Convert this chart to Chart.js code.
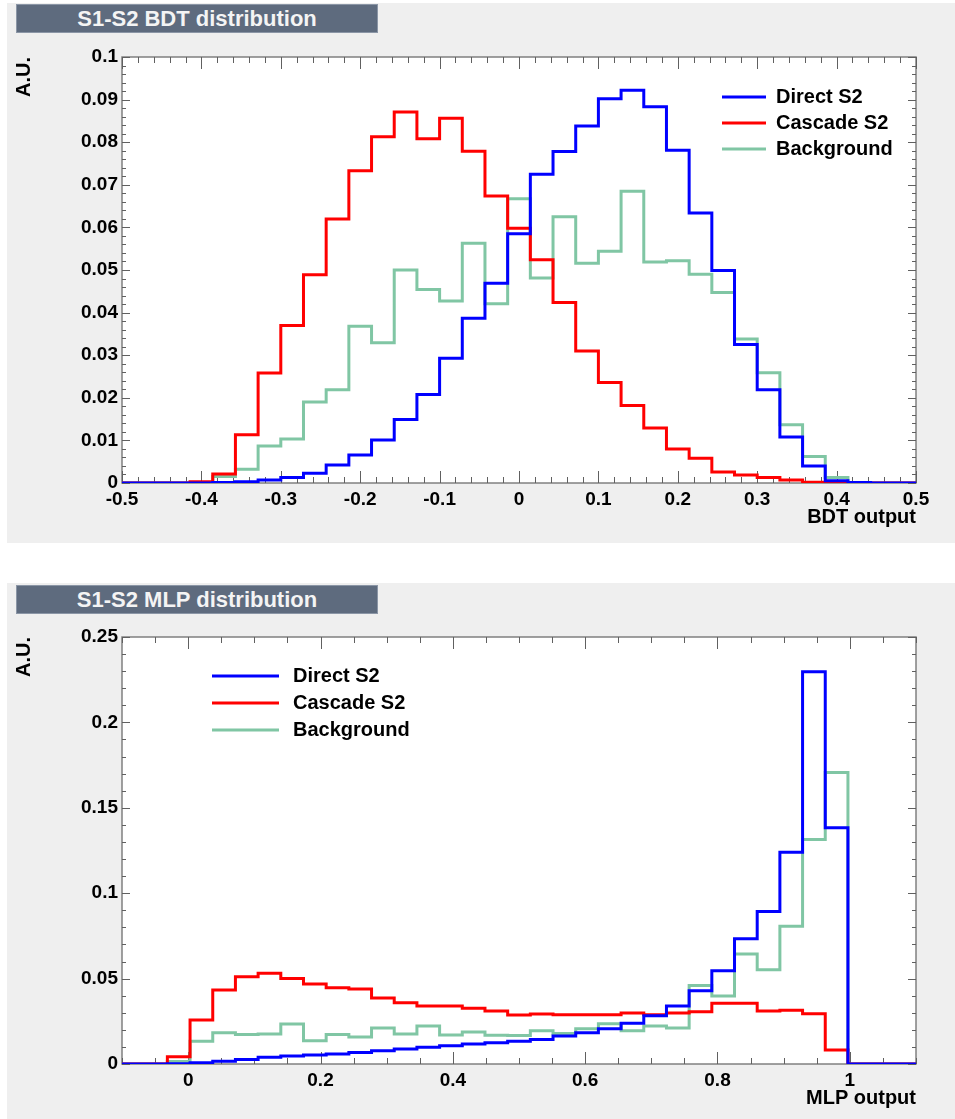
<!DOCTYPE html>
<html>
<head>
<meta charset="utf-8">
<title>S1-S2 BDT / MLP distributions</title>
<script src="https://cdn.jsdelivr.net/npm/chart.js@4"></script>
<style>
    body { margin: 0; background: #fff; font-family: "Liberation Sans", Arial, sans-serif; }
    .pad { position: absolute; left: 7px; right: 0; background: #efefef; }
    #pad1 { top: 3px; height: 540px; }
    #pad2 { top: 583px; height: 536px; }
    .banner {
        position: absolute; left: 16px; width: 362px; height: 29px; box-sizing: border-box;
        background: #5e6b7e; border: 1px solid #8b96a6; color: #f4f4f4;
        font-weight: bold; font-size: 22px; line-height: 27px; text-align: center;
    }
    canvas { position: absolute; left: 0; }
    #bdtChart { top: 0; }
    #mlpChart { top: 583px; }
</style>
</head>
<body>
<div class="pad" id="pad1"></div>
<div class="pad" id="pad2"></div>
<canvas id="bdtChart" width="955" height="543"></canvas>
<canvas id="mlpChart" width="955" height="536"></canvas>
<div class="banner" style="top:4px">S1-S2 BDT distribution</div>
<div class="banner" style="top:585px">S1-S2 MLP distribution</div>
<script>
// series names and colours
const seriesNames = ['Direct S2', 'Cascade S2', 'Background'];
const seriesColors = ['#0000ff', '#ff0000', '#80c6a4'];

// BDT output: 35 bins from -0.5 to 0.5
const bdtRange = [-0.5, 0.5];
const bdtDirect = [0, 0, 0, 0, 0.0001, 0.0003, 0.0007, 0.0013, 0.0023, 0.0042, 0.0066, 0.0101, 0.0149, 0.0208, 0.0293, 0.0387, 0.0469,
    0.0585, 0.0725, 0.0778, 0.0838, 0.0902, 0.0922, 0.0883, 0.0781, 0.0634, 0.0499, 0.0325, 0.0219, 0.0108, 0.0040, 0.0005, 0.0001, 0, 0];
const bdtCascade = [0, 0, 0, 0.0003, 0.0021, 0.0113, 0.0258, 0.0370, 0.0489, 0.0620, 0.0733, 0.0813, 0.0871, 0.0808, 0.0856, 0.0779, 0.0674,
    0.0598, 0.0524, 0.0424, 0.0310, 0.0236, 0.0182, 0.0129, 0.0080, 0.0058, 0.0026, 0.0019, 0.0013, 0.0007, 0.0002, 0.0001, 0, 0, 0];
const bdtBackground = [0, 0, 0, 0, 0.0015, 0.0032, 0.0087, 0.0103, 0.0190, 0.0219, 0.0368, 0.0329, 0.0500, 0.0454, 0.0427, 0.0563, 0.0421,
    0.0667, 0.0481, 0.0625, 0.0516, 0.0544, 0.0685, 0.0519, 0.0522, 0.0490, 0.0447, 0.0338, 0.0259, 0.0137, 0.0062, 0.0013, 0, 0, 0];
const bdtXTicks = [-0.5, -0.4, -0.3, -0.2, -0.1, 0, 0.1, 0.2, 0.3, 0.4, 0.5];
const bdtYTicks = [0, 0.01, 0.02, 0.03, 0.04, 0.05, 0.06, 0.07, 0.08, 0.09, 0.1];

// MLP output: 35 bins from -0.1 to 1.1
const mlpRange = [-0.1, 1.1];
const mlpDirect = [0, 0, 0.0001, 0.0008, 0.0016, 0.0027, 0.0039, 0.0047, 0.0053, 0.0059, 0.0068, 0.0078, 0.0088, 0.0098, 0.0107, 0.0117, 0.0125,
    0.0133, 0.0144, 0.0164, 0.0183, 0.0207, 0.0238, 0.0283, 0.0339, 0.0429, 0.0546, 0.0733, 0.0893, 0.1240, 0.2296, 0.1383, 0, 0, 0];
const mlpCascade = [0, 0, 0.0043, 0.0257, 0.0433, 0.0511, 0.0531, 0.0501, 0.0468, 0.0447, 0.0439, 0.0386, 0.0359, 0.0339, 0.0339, 0.0326, 0.0310,
    0.0287, 0.0293, 0.0289, 0.0289, 0.0289, 0.0298, 0.0289, 0.0298, 0.0306, 0.0355, 0.0355, 0.0310, 0.0314, 0.0294, 0.0082, 0, 0, 0];
const mlpBackground = [0, 0, 0.0014, 0.0133, 0.0183, 0.0172, 0.0176, 0.0234, 0.0136, 0.0172, 0.0158, 0.0211, 0.0176, 0.0222, 0.0170, 0.0187, 0.0168,
    0.0167, 0.0195, 0.0179, 0.0207, 0.0236, 0.0195, 0.0222, 0.0211, 0.0460, 0.0398, 0.0644, 0.0552, 0.0806, 0.1315, 0.1707, 0, 0, 0];
const mlpXTicks = [0, 0.2, 0.4, 0.6, 0.8, 1];
const mlpYTicks = [0, 0.05, 0.1, 0.15, 0.2, 0.25];

const FONT = '"Liberation Sans", Arial, sans-serif';

// bin contents -> step outline points at the bin edges
// (point i sits on the low edge of bin i; the last one closes the range)
function histPoints(values, range) {
    const w = (range[1] - range[0]) / values.length;
    const pts = values.map((v, i) => ({ x: range[0] + i * w, y: v }));
    pts.push({ x: range[1], y: values[values.length - 1] });
    return pts;
}

function fmt(v) {
    return String(Math.round(v * 1000) / 1000);
}

function stepValues(scale, step) {
    const n = Math.round((scale.max - scale.min) / step);
    const out = [];
    for (let i = 0; i <= n; i++) out.push(scale.min + i * step);
    return out;
}

// white frame, axis box and inward ticks on all four sides
const framePlugin = {
    id: 'frame',
    beforeDraw(chart) {
        const { ctx, chartArea: a } = chart;
        ctx.save();
        ctx.fillStyle = '#fff';
        ctx.fillRect(a.left, a.top, a.width, a.height);
        ctx.restore();
    },
    beforeDatasetsDraw(chart, args, opts) {
        const { ctx, chartArea: a, scales } = chart;
        const x = scales.x, y = scales.y;
        ctx.save();
        ctx.strokeStyle = '#808080';
        ctx.lineWidth = 1.5;
        ctx.strokeRect(a.left, a.top, a.width, a.height);

        ctx.strokeStyle = '#606060';
        ctx.lineWidth = 1;
        ctx.beginPath();
        const xMajor = x.ticks.map(t => t.value);
        stepValues(x, opts.xMinor).forEach(v => {
            const len = xMajor.some(m => Math.abs(m - v) < 1e-6) ? 12 : 6;
            const px = Math.round(x.getPixelForValue(v)) + 0.5;
            ctx.moveTo(px, a.bottom); ctx.lineTo(px, a.bottom - len);
            ctx.moveTo(px, a.top); ctx.lineTo(px, a.top + len);
        });
        const yMajor = y.ticks.map(t => t.value);
        stepValues(y, opts.yMinor).forEach(v => {
            const len = yMajor.some(m => Math.abs(m - v) < 1e-6) ? 8 : 4;
            const py = Math.round(y.getPixelForValue(v)) + 0.5;
            ctx.moveTo(a.left, py); ctx.lineTo(a.left + len, py);
            ctx.moveTo(a.right, py); ctx.lineTo(a.right - len, py);
        });
        ctx.stroke();
        ctx.restore();
    }
};

// line + label legend placed inside the pad
const legendPlugin = {
    id: 'legendBox',
    afterDatasetsDraw(chart, args, o) {
        const ctx = chart.ctx;
        ctx.save();
        ctx.font = 'bold 20px ' + FONT;
        ctx.textBaseline = 'middle';
        chart.data.datasets.forEach((ds, i) => {
            const yy = o.y + i * o.row;
            ctx.strokeStyle = ds.borderColor;
            ctx.lineWidth = 3;
            ctx.beginPath();
            ctx.moveTo(o.x, yy);
            ctx.lineTo(o.x + o.len, yy);
            ctx.stroke();
            ctx.fillStyle = '#000';
            ctx.fillText(ds.label, o.x + o.len + o.gap, yy);
        });
        ctx.restore();
    }
};

function makeHistChart(id, cfg) {
    const datasets = cfg.series.map((vals, i) => ({
        label: seriesNames[i],
        data: histPoints(vals, cfg.range),
        borderColor: seriesColors[i],
        borderWidth: 3,
        pointRadius: 0,
        // 'before': run flat at this point's value up to the next edge, then drop
        stepped: 'before',
        fill: false
    }));

    return new Chart(document.getElementById(id).getContext('2d'), {
        type: 'line',
        data: { datasets: datasets },
        plugins: [framePlugin, legendPlugin],
        options: {
            responsive: false,
            animation: false,
            layout: { padding: { left: 0, top: cfg.top, right: 39, bottom: 0 } },
            scales: {
                x: {
                    type: 'linear',
                    min: cfg.range[0],
                    max: cfg.range[1],
                    afterBuildTicks: s => { s.ticks = cfg.xTicks.map(v => ({ value: v })); },
                    afterFit: s => { s.height = cfg.xHeight; },
                    grid: { display: false, drawTicks: false },
                    border: { display: false },
                    ticks: {
                        autoSkip: false, maxRotation: 0, padding: 5, color: '#000',
                        font: { family: FONT, size: 19, weight: 'bold' },
                        callback: v => fmt(v)
                    },
                    title: {
                        display: true, text: cfg.xTitle, align: 'end', color: '#000',
                        font: { family: FONT, size: 20, weight: 'bold' },
                        padding: { top: 0, bottom: cfg.xTitlePad }
                    }
                },
                y: {
                    type: 'linear',
                    min: cfg.yTicks[0],
                    max: cfg.yTicks[cfg.yTicks.length - 1],
                    afterBuildTicks: s => { s.ticks = cfg.yTicks.map(v => ({ value: v })); },
                    afterFit: s => { s.width = 122; },
                    grid: { display: false, drawTicks: false },
                    border: { display: false },
                    ticks: {
                        autoSkip: false, padding: 4, color: '#000',
                        font: { family: FONT, size: 19, weight: 'bold' },
                        callback: v => fmt(v)
                    },
                    title: {
                        display: true, text: 'A.U.', align: 'end', color: '#000',
                        font: { family: FONT, size: 20, weight: 'bold' },
                        padding: { top: 12, bottom: 0 }
                    }
                }
            },
            plugins: {
                legend: { display: false },
                tooltip: { enabled: false },
                frame: { xMinor: cfg.xMinor, yMinor: cfg.yMinor },
                legendBox: cfg.legend
            }
        }
    });
}

document.addEventListener('DOMContentLoaded', function() {
    // BDT response
    makeHistChart('bdtChart', {
        series: [bdtDirect, bdtCascade, bdtBackground],
        range: bdtRange,
        xTicks: bdtXTicks,
        yTicks: bdtYTicks,
        xMinor: 0.02,
        yMinor: 0.002,
        top: 57,
        xHeight: 60,
        xTitle: 'BDT output',
        xTitlePad: 14,
        legend: { x: 722, y: 97, len: 44, gap: 10, row: 26 }
    });

    // MLP response
    makeHistChart('mlpChart', {
        series: [mlpDirect, mlpCascade, mlpBackground],
        range: mlpRange,
        xTicks: mlpXTicks,
        yTicks: mlpYTicks,
        xMinor: 0.05,
        yMinor: 0.01,
        top: 54,
        xHeight: 55,
        xTitle: 'MLP output',
        xTitlePad: 9,
        legend: { x: 212, y: 93, len: 67, gap: 14, row: 27 }
    });
});
</script>
</body>
</html>
